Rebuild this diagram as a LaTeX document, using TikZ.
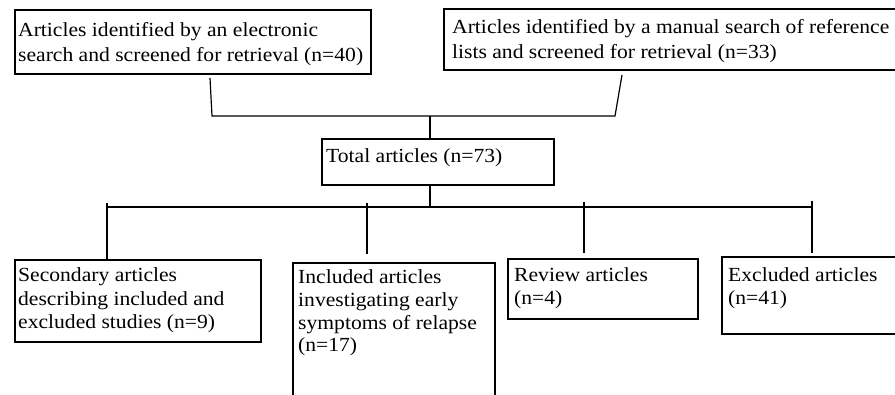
\documentclass[tikz,border=0pt]{standalone}
\usepackage{fontspec}
\setmainfont{Liberation Serif}[FakeStretch=1.08]
\begin{document}
\begin{tikzpicture}[x=1pt,y=-1pt,
  box/.style={draw=black, line width=1.2pt},
  txt/.style={anchor=base west, inner sep=0pt, align=left, font=\fontsize{20}{23.5}\selectfont},
  conn/.style={draw=black, line width=1.2pt}]
\useasboundingbox (0,0) rectangle (895,395);
\begin{scope}
\clip (0,0) rectangle (895,395);
% boxes
\draw[box] (15,10) rectangle (371,74);
\node[txt, font=\fontsize{20}{25}\selectfont] (At) at (18,62) {Articles identified by an electronic\\search and screened for retrieval (n=40)};
\draw[box] (444,9) rectangle (898,70);
\node[txt, font=\fontsize{20}{25}\selectfont] (Bt) at (452,59) {Articles identified by a manual search of reference\\lists and screened for retrieval (n=33)};
\draw[box] (322,139) rectangle (554,185);
\node[txt] (Tt) at (326,163) {Total articles (n=73)};
\draw[box] (15,260) rectangle (261,342);
\node[txt] (Ct) at (18,329) {Secondary articles\\describing included and\\excluded studies (n=9)};
\draw[box] (293,397) -- (293,263) -- (495,263) -- (495,397);
\node[txt, font=\fontsize{20}{22.7}\selectfont] (Dt) at (298,352) {Included articles\\investigating early\\symptoms of relapse\\(n=17)};
\draw[box] (508,259) rectangle (698,319);
\node[txt] (Et) at (514,305) {Review articles\\(n=4)};
\draw[box] (722,257) rectangle (898,334);
\node[txt] (Ft) at (728,305) {Excluded articles\\(n=41)};
% named connector points
\coordinate (a1) at (210,78);
\coordinate (a2) at (212,116);
\coordinate (b1) at (622,75);
\coordinate (b2) at (615,116);
\coordinate (m1) at (430,116);
\coordinate (t1) at (430,139);
\coordinate (t2) at (430,185);
\coordinate (h1) at (107,207);
\coordinate (h2) at (812,207);
\coordinate (c0) at (107,203);
\coordinate (c1) at (107,260);
\coordinate (d0) at (367,203);
\coordinate (d1) at (367,254);
\coordinate (e0) at (584,202);
\coordinate (e1) at (584,253);
\coordinate (f0) at (812,201);
\coordinate (f1) at (812,253);
\coordinate (hc) at (430,207);
\draw[conn] (a1) -- (a2) -- (b2) -- (b1);
\draw[conn] (m1) -- (t1);
\draw[conn] (t2) -- (hc);
\draw[conn] (h1) -- (h2);
\draw[conn] (c0) -- (c1);
\draw[conn] (d0) -- (d1);
\draw[conn] (e0) -- (e1);
\draw[conn] (f0) -- (f1);
\end{scope}
\end{tikzpicture}
\end{document}
